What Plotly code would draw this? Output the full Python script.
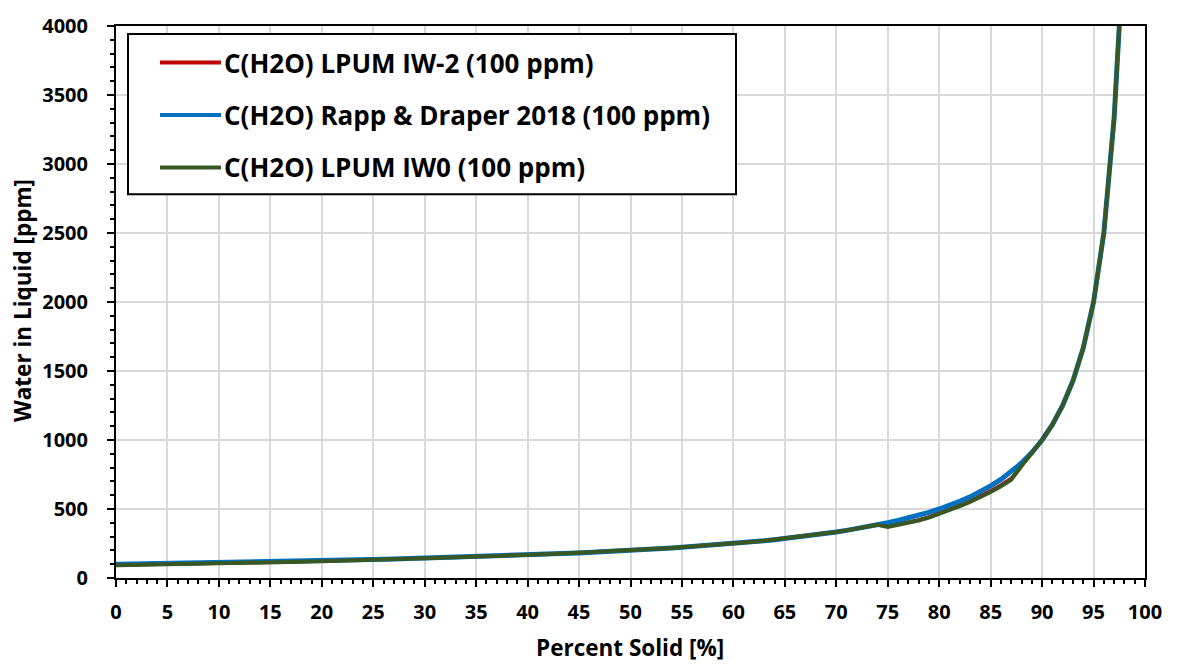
import plotly.graph_objects as go

# Percent solid (x) and water concentration in the remaining liquid (ppm)
percent_solid = [0, 1, 2, 3, 4, 5, 6, 7, 8, 9, 10, 11, 12, 13, 14, 15, 16, 17, 18, 19,
                 20, 21, 22, 23, 24, 25, 26, 27, 28, 29, 30, 31, 32, 33, 34, 35, 36, 37, 38, 39,
                 40, 41, 42, 43, 44, 45, 46, 47, 48, 49, 50, 51, 52, 53, 54, 55, 56, 57, 58, 59,
                 60, 61, 62, 63, 64, 65, 66, 67, 68, 69, 70, 71, 72, 73, 74, 75, 76, 77, 78, 79,
                 80, 81, 82, 83, 84, 85, 86, 87, 88, 89, 90, 91, 92, 93, 94, 95, 96, 97, 97.5]

water_rapp_draper = [100, 101, 102, 103, 104, 105, 106, 108, 109, 110, 111, 112, 114, 115, 116, 118, 119, 120, 122, 123,
                     125, 127, 128, 130, 132, 133, 135, 137, 139, 141, 143, 145, 147, 149, 152, 154, 156, 159, 161, 164,
                     167, 169, 172, 175, 179, 182, 185, 189, 192, 196, 200, 204, 208, 213, 217, 222, 227, 233, 238, 244,
                     250, 256, 263, 270, 278, 286, 294, 303, 313, 323, 333, 345, 357, 370, 385, 400, 417, 435, 455, 476,
                     500, 526, 556, 588, 625, 667, 714, 769, 833, 909, 1000, 1111, 1250, 1429, 1667, 2000, 2500, 3333, 4000]

water_lpum_iw0 = [93, 94, 95, 96, 97, 98, 99, 101, 102, 103, 104, 106, 108, 109, 110, 112, 114, 115, 117, 119,
                  121, 124, 125, 127, 130, 133, 135, 137, 139, 141, 143, 145, 147, 149, 152, 154, 156, 159, 161, 164,
                  167, 169, 172, 175, 179, 182, 185, 189, 192, 196, 200, 204, 208, 213, 217, 222, 227, 233, 238, 244,
                  250, 256, 263, 270, 278, 286, 294, 303, 313, 323, 333, 345, 357, 370, 385, 370, 384, 399, 417, 438,
                  464, 490, 520, 552, 586, 623, 664, 712, 812, 905, 1000, 1111, 1250, 1429, 1667, 2000, 2500, 3333, 4000]

water_lpum_iw_2 = [93, 94, 95, 96, 97, 98, 99, 101, 102, 103, 104, 106, 108, 109, 110, 112, 114, 115, 117, 119,
                   121, 124, 125, 127, 130, 133, 135, 137, 139, 141, 143, 145, 147, 149, 152, 154, 156, 159, 161, 164,
                   167, 169, 172, 175, 179, 182, 185, 189, 192, 196, 200, 204, 208, 213, 217, 222, 227, 233, 238, 244,
                   250, 256, 263, 270, 278, 286, 294, 303, 313, 323, 333, 345, 357, 370, 385, 373, 388, 404, 423, 445,
                   471, 498, 528, 561, 596, 634, 676, 724, 818, 907, 1000, 1111, 1250, 1429, 1667, 2000, 2500, 3333, 4000]

series_names = ["C(H2O) LPUM IW-2 (100 ppm)",
                "C(H2O) Rapp & Draper 2018 (100 ppm)",
                "C(H2O) LPUM IW0 (100 ppm)"]
series_values = [water_lpum_iw_2, water_rapp_draper, water_lpum_iw0]
series_colors = ["#C00000", "#0070C0", "#385723"]
series_widths = [3, 5, 4]

x_ticks = list(range(0, 101, 5))
y_ticks = list(range(0, 4001, 500))

FONT = "Open Sans"
WEIGHT = 700
W, H = 1178, 664
PLOT_L, PLOT_R, PLOT_T, PLOT_B = 116, 1145, 20, 578


def px_x(p):
    return (p - PLOT_L) / (PLOT_R - PLOT_L)


def px_y(p):
    return (PLOT_B - p) / (PLOT_B - PLOT_T)


fig = go.Figure()
for name, vals, col, w in zip(series_names, series_values, series_colors, series_widths):
    fig.add_trace(go.Scatter(x=percent_solid, y=vals, mode="lines", name=name,
                             line=dict(color=col, width=w), showlegend=False))

axis_common = dict(
    showline=True, linecolor="black", linewidth=2, mirror=True,
    ticks="outside", ticklen=7, tickwidth=2, tickcolor="black",
    showgrid=True, gridcolor="#D9D9D9", gridwidth=1.5,
    zeroline=False, tickmode="array",
    tickfont=dict(family=FONT, size=20, color="black", weight=WEIGHT),
)

fig.update_xaxes(range=[0, 100], tickvals=x_ticks, ticktext=[f"<b>{v}</b>" for v in x_ticks],
                 ticklabelstandoff=8,
                 minor=dict(dtick=1, tick0=0, ticks="outside", ticklen=4, tickcolor="black", tickwidth=1.5,
                            showgrid=False),
                 **axis_common)
fig.update_yaxes(range=[0, 4000], tickvals=y_ticks, ticktext=[f"<b>{v}</b>" for v in y_ticks],
                 ticklabelstandoff=15,
                 minor=dict(dtick=100, tick0=0, ticks="outside", ticklen=4, tickcolor="black", tickwidth=1.5,
                            showgrid=False),
                 **axis_common)

shapes = []
annotations = []

# Legend box drawn by hand so the line samples can be long
shapes.append(dict(type="rect", xref="paper", yref="paper",
                   x0=px_x(128), x1=px_x(736), y0=px_y(190), y1=px_y(28),
                   line=dict(color="black", width=2), fillcolor="white", layer="above"))
row_y = [57, 110, 163]
for name, col, yy in zip(series_names, series_colors, row_y):
    shapes.append(dict(type="line", xref="paper", yref="paper",
                       x0=px_x(160), x1=px_x(221), y0=px_y(yy), y1=px_y(yy),
                       line=dict(color=col, width=4), layer="above"))
    annotations.append(dict(text=f"<b>{name}</b>", xref="paper", yref="paper", x=px_x(222), y=px_y(yy),
                            xanchor="left", yanchor="middle", showarrow=False,
                            font=dict(family=FONT, size=26, color="black", weight=WEIGHT)))

# Axis titles
annotations.append(dict(text="<b>Percent Solid [%]</b>", xref="paper", yref="paper",
                        x=px_x(630), y=px_y(648), xanchor="center", yanchor="middle", showarrow=False,
                        font=dict(family=FONT, size=22.5, color="black", weight=WEIGHT)))
annotations.append(dict(text="<b>Water in Liquid [ppm]</b>", xref="paper", yref="paper",
                        x=px_x(22), y=px_y(298), xanchor="center", yanchor="middle", showarrow=False,
                        textangle=-90,
                        font=dict(family=FONT, size=22.5, color="black", weight=WEIGHT)))

fig.update_layout(
    width=W, height=H,
    margin=dict(l=PLOT_L, r=W - PLOT_R, t=PLOT_T, b=H - PLOT_B),
    paper_bgcolor="white", plot_bgcolor="white",
    shapes=shapes, annotations=annotations,
    showlegend=False,
)

fig.write_html("out.html")
